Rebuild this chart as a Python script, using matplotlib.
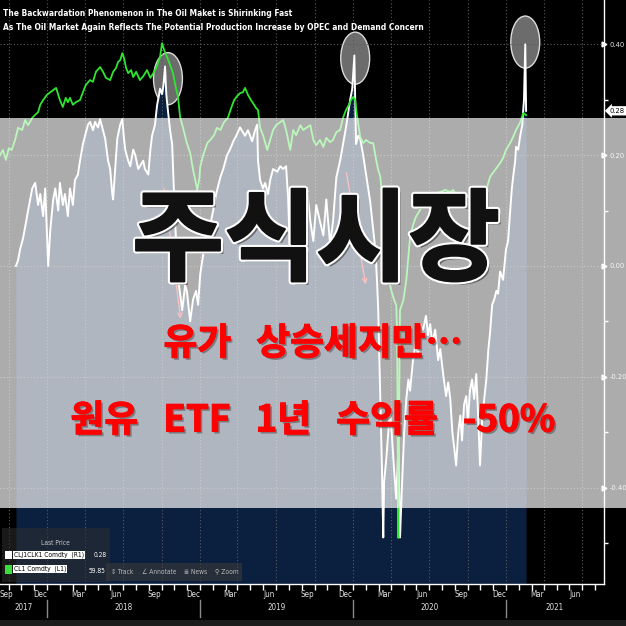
import pandas as pd
import matplotlib
matplotlib.use("Agg")
import matplotlib.pyplot as plt
import matplotlib.dates as mdates
import matplotlib.patheffects as pe
from matplotlib.patches import Ellipse, Rectangle
from matplotlib.transforms import blended_transform_factory, ScaledTranslation

# CLJ1CLK1 Comdty spread (right axis, white)
spread_dates = [
    "2017-09-18", "2017-09-23", "2017-09-28", "2017-10-05", "2017-10-10", "2017-10-17", "2017-10-27",
    "2017-11-03", "2017-11-10", "2017-11-15", "2017-11-22", "2017-11-27", "2017-12-04", "2017-12-09",
    "2017-12-16", "2017-12-21", "2017-12-28", "2018-01-01", "2018-01-08", "2018-01-13", "2018-01-20",
    "2018-01-25", "2018-02-01", "2018-02-06", "2018-02-13", "2018-02-18", "2018-02-25", "2018-03-02",
    "2018-03-09", "2018-03-14", "2018-03-21", "2018-03-26", "2018-04-02", "2018-04-07", "2018-04-14",
    "2018-04-19", "2018-04-26", "2018-05-01", "2018-05-06", "2018-05-08", "2018-05-13", "2018-05-18",
    "2018-05-25", "2018-05-30", "2018-06-03", "2018-06-06", "2018-06-13", "2018-06-18", "2018-06-25",
    "2018-06-30", "2018-07-07", "2018-07-11", "2018-07-19", "2018-07-23", "2018-07-31", "2018-08-05",
    "2018-08-09", "2018-08-16", "2018-08-21", "2018-08-26", "2018-08-28", "2018-09-02", "2018-09-05",
    "2018-09-09", "2018-09-12", "2018-09-16", "2018-09-21", "2018-09-26", "2018-09-30", "2018-10-03",
    "2018-10-08", "2018-10-10", "2018-10-15", "2018-10-20", "2018-10-27", "2018-10-31", "2018-11-08",
    "2018-11-15", "2018-11-22", "2018-11-27", "2018-12-02", "2018-12-09", "2018-12-16", "2018-12-26",
    "2019-01-02", "2019-01-09", "2019-01-19", "2019-01-26", "2019-02-04", "2019-02-11", "2019-02-19",
    "2019-02-26", "2019-03-07", "2019-03-19", "2019-03-26", "2019-04-05", "2019-04-12", "2019-04-17",
    "2019-04-19", "2019-04-24", "2019-05-01", "2019-05-06", "2019-05-13", "2019-05-18", "2019-05-25",
    "2019-06-04", "2019-06-11", "2019-06-18", "2019-06-25", "2019-06-30", "2019-07-05", "2019-07-10",
    "2019-07-17", "2019-07-24", "2019-07-29", "2019-08-05", "2019-08-10", "2019-08-14", "2019-08-22",
    "2019-08-29", "2019-09-05", "2019-09-14", "2019-09-22", "2019-09-29", "2019-10-08", "2019-10-15",
    "2019-10-23", "2019-11-01", "2019-11-08", "2019-11-15", "2019-11-20", "2019-11-25", "2019-11-30",
    "2019-12-05", "2019-12-07", "2019-12-09", "2019-12-14", "2019-12-19", "2019-12-26", "2020-01-02",
    "2020-01-12", "2020-01-19", "2020-01-24", "2020-01-28", "2020-01-31", "2020-02-05", "2020-02-09",
    "2020-02-12", "2020-02-14", "2020-02-19", "2020-02-24", "2020-02-28", "2020-03-04", "2020-03-09",
    "2020-03-14", "2020-03-19", "2020-03-23", "2020-03-28", "2020-04-02", "2020-04-07", "2020-04-12",
    "2020-04-16", "2020-04-23", "2020-04-30", "2020-05-05", "2020-05-10", "2020-05-17", "2020-05-24",
    "2020-05-29", "2020-06-03", "2020-06-08", "2020-06-15", "2020-06-22", "2020-06-27", "2020-07-04",
    "2020-07-11", "2020-07-16", "2020-07-21", "2020-07-26", "2020-07-30", "2020-08-04", "2020-08-09",
    "2020-08-14", "2020-08-18", "2020-08-23", "2020-08-28", "2020-09-01", "2020-09-06", "2020-09-11",
    "2020-09-16", "2020-09-21", "2020-09-25", "2020-09-30", "2020-10-05", "2020-10-10", "2020-10-15",
    "2020-10-20", "2020-10-24", "2020-10-29", "2020-11-03", "2020-11-08", "2020-11-12", "2020-11-17",
    "2020-11-24", "2020-12-01", "2020-12-06", "2020-12-11", "2020-12-15", "2020-12-18", "2020-12-23",
    "2020-12-25", "2020-12-30", "2021-01-04", "2021-01-09", "2021-01-11", "2021-01-13", "2021-01-16",
    "2021-01-18",
]
spread_vals = [
    0.00, 0.01, 0.03, 0.05, 0.07, 0.10, 0.14,
    0.15, 0.11, 0.13, 0.09, 0.14, 0.00, 0.065,
    0.12, 0.14, 0.10, 0.15, 0.11, 0.13, 0.09,
    0.14, 0.11, 0.155, 0.165, 0.19, 0.22, 0.235,
    0.255, 0.26, 0.245, 0.26, 0.25, 0.265, 0.245,
    0.23, 0.19, 0.175, 0.13, 0.12, 0.175, 0.23,
    0.255, 0.265, 0.23, 0.21, 0.19, 0.18, 0.21,
    0.20, 0.175, 0.18, 0.19, 0.175, 0.165, 0.21,
    0.235, 0.255, 0.29, 0.31, 0.32, 0.31, 0.325,
    0.36, 0.31, 0.28, 0.245, 0.22, 0.14, 0.08,
    0.01, -0.025, -0.05, -0.08, -0.035, -0.045, -0.10,
    -0.06, -0.045, -0.07, -0.015, 0.02, 0.045, 0.075,
    0.10, 0.13, 0.16, 0.175, 0.20, 0.21, 0.225,
    0.235, 0.25, 0.235, 0.245, 0.225, 0.245, 0.255,
    0.19, 0.155, 0.14, 0.15, 0.13, 0.155, 0.175,
    0.17, 0.18, 0.175, 0.18, 0.12, 0.005, 0.055,
    0.09, 0.12, 0.10, 0.14, 0.11, 0.14, 0.08,
    0.045, 0.11, 0.08, 0.055, 0.12, 0.04, 0.08,
    0.16, 0.19, 0.22, 0.25, 0.275, 0.30, 0.32,
    0.38, 0.30, 0.22, 0.235, 0.23, 0.20, 0.165,
    0.115, 0.065, 0.03, -0.025, -0.08, -0.24, -0.37,
    -0.49, -0.39, -0.35, -0.30, -0.26, -0.31, -0.37,
    -0.42, -0.33, -0.49, -0.39, -0.30, -0.24, -0.205,
    -0.225, -0.17, -0.135, -0.16, -0.105, -0.115, -0.09,
    -0.125, -0.105, -0.14, -0.115, -0.17, -0.15, -0.195,
    -0.235, -0.21, -0.24, -0.30, -0.325, -0.36, -0.30,
    -0.27, -0.315, -0.25, -0.235, -0.28, -0.225, -0.205,
    -0.24, -0.195, -0.26, -0.36, -0.28, -0.24, -0.205,
    -0.15, -0.12, -0.07, -0.06, -0.045, -0.05, -0.01,
    -0.025, 0.03, 0.045, 0.10, 0.14, 0.16, 0.19,
    0.215, 0.21, 0.235, 0.255, 0.28, 0.30, 0.40,
    0.28,
]

# CL1 Comdty price (left axis, green, scale hidden)
cl1_dates = [
    "2017-08-11", "2017-08-18", "2017-08-25", "2017-09-01", "2017-09-08", "2017-09-16", "2017-09-23",
    "2017-10-03", "2017-10-10", "2017-10-17", "2017-10-27", "2017-11-03", "2017-11-10", "2017-11-15",
    "2017-11-22", "2017-12-01", "2017-12-09", "2017-12-16", "2017-12-23", "2017-12-28", "2018-01-01",
    "2018-01-08", "2018-01-15", "2018-01-20", "2018-01-25", "2018-02-01", "2018-02-08", "2018-02-18",
    "2018-02-25", "2018-03-04", "2018-03-14", "2018-03-21", "2018-03-28", "2018-04-07", "2018-04-14",
    "2018-04-21", "2018-05-01", "2018-05-08", "2018-05-15", "2018-05-20", "2018-05-25", "2018-05-30",
    "2018-06-03", "2018-06-08", "2018-06-13", "2018-06-20", "2018-06-25", "2018-07-02", "2018-07-11",
    "2018-07-19", "2018-07-28", "2018-08-05", "2018-08-12", "2018-08-19", "2018-08-24", "2018-08-28",
    "2018-09-02", "2018-09-07", "2018-09-14", "2018-09-21", "2018-09-28", "2018-10-05", "2018-10-10",
    "2018-10-15", "2018-10-22", "2018-10-31", "2018-11-08", "2018-11-15", "2018-11-20", "2018-11-25",
    "2018-11-30", "2018-12-02", "2018-12-09", "2018-12-19", "2018-12-26", "2019-01-04", "2019-01-11",
    "2019-01-19", "2019-01-28", "2019-02-06", "2019-02-14", "2019-02-21", "2019-02-28", "2019-03-07",
    "2019-03-14", "2019-03-19", "2019-03-26", "2019-04-02", "2019-04-07", "2019-04-14", "2019-04-19",
    "2019-04-24", "2019-05-01", "2019-05-11", "2019-05-18", "2019-05-25", "2019-06-01", "2019-06-11",
    "2019-06-18", "2019-06-25", "2019-07-05", "2019-07-12", "2019-07-19", "2019-07-29", "2019-08-05",
    "2019-08-14", "2019-08-22", "2019-08-29", "2019-09-05", "2019-09-14", "2019-09-22", "2019-09-29",
    "2019-10-08", "2019-10-15", "2019-10-23", "2019-11-01", "2019-11-08", "2019-11-15", "2019-11-22",
    "2019-11-27", "2019-12-02", "2019-12-07", "2019-12-11", "2019-12-19", "2019-12-26", "2020-01-02",
    "2020-01-12", "2020-01-19", "2020-01-26", "2020-01-31", "2020-02-05", "2020-02-09", "2020-02-12",
    "2020-02-17", "2020-02-19", "2020-02-24", "2020-02-28", "2020-03-04", "2020-03-09", "2020-03-14",
    "2020-03-16", "2020-03-19", "2020-03-21", "2020-03-23", "2020-03-31", "2020-04-07", "2020-04-16",
    "2020-04-23", "2020-04-30", "2020-05-10", "2020-05-17", "2020-05-24", "2020-06-03", "2020-06-17",
    "2020-06-27", "2020-07-09", "2020-07-21", "2020-07-28", "2020-08-04", "2020-08-14", "2020-08-26",
    "2020-09-06", "2020-09-18", "2020-09-30", "2020-10-07", "2020-10-15", "2020-10-24", "2020-11-01",
    "2020-11-08", "2020-11-17", "2020-11-24", "2020-12-01", "2020-12-11", "2020-12-18", "2020-12-25",
    "2021-01-04", "2021-01-11", "2021-01-18",
]
cl1_vals = [
    50.6, 51.8, 49.5, 52.2, 51.8, 54.1, 56.9,
    56.4, 58.7, 57.5, 59.2, 59.9, 60.5, 62.2,
    63.3, 64.5, 65.1, 65.6, 66.1, 64.5, 63.3,
    61.7, 63.8, 62.8, 63.8, 62.2, 62.8, 63.3,
    65.1, 66.8, 67.9, 67.5, 69.8, 70.9, 69.8,
    68.4, 67.9, 69.8, 70.7, 72.1, 72.5, 74.1,
    73.0, 70.7, 69.5, 70.2, 68.6, 69.8, 67.9,
    68.8, 70.2, 68.4, 69.5, 70.7, 72.1, 73.2,
    76.4, 74.8, 73.2, 71.4, 69.5, 66.1, 64.0,
    59.4, 56.9, 53.4, 51.1, 47.2, 44.9, 42.6,
    45.3, 47.9, 50.6, 53.4, 54.1, 55.2, 56.9,
    56.4, 58.2, 59.2, 61.5, 63.3, 64.2, 64.9,
    65.1, 66.1, 64.5, 63.3, 62.6, 61.5, 61.0,
    56.9, 55.2, 51.8, 54.1, 56.4, 57.5, 58.2,
    58.7, 56.4, 51.8, 56.4, 55.2, 57.5, 56.4,
    57.0, 57.5, 54.1, 52.9, 54.1, 52.5, 54.6,
    53.6, 54.1, 55.9, 56.4, 59.2, 61.0, 62.2,
    63.3, 64.0, 63.3, 59.9, 54.8, 53.4, 54.1,
    53.4, 53.4, 49.5, 47.2, 45.6, 41.4, 38.0,
    28.7, 22.5, 21.8, 20.7, 18.8, 17.2, 16.1,
    10.3, -37.6, -5.8, 14.9, 17.2, 21.8, 31.7,
    34.5, 36.4, 38.0, 39.6, 40.7, 41.4, 41.9,
    42.1, 42.6, 42.1, 42.6, 41.4, 40.3, 41.4,
    41.0, 40.3, 39.6, 41.4, 42.6, 45.6, 46.7,
    47.6, 48.8, 49.9, 51.8, 53.4, 54.8, 56.4,
    58.2, 60.3, 59.85,
]

title_lines = [
    "The Backwardation Phenomenon in The Oil Maket is Shirinking Fast",
    "As The Oil Market Again Reflects The Potential Production Increase by OPEC and Demand Concern",
]
right_ticks = [0.40, 0.20, 0.00, -0.20, -0.40]
right_minor = [0.30, 0.10, -0.10, -0.30, -0.50]
last_spread = 0.28
last_cl1 = 59.85
legend_names = ["CLJ1CLK1 Comdty  (R1)", "CL1 Comdty  (L1)"]
tools = ["⇕ Track", "∠ Annotate", "≣ News", "⚲ Zoom"]
month_names = {3: "Mar", 6: "Jun", 9: "Sep", 12: "Dec"}
year_names = ["2017", "2018", "2019", "2020", "2021"]
circle_marks = [("2018-09-16", 0.338), ("2019-12-07", 0.375), ("2021-01-16", 0.404)]
arrow_marks = [(("2018-09-06", 0.145), ("2018-10-17", -0.10)),
               (("2019-11-15", 0.173), ("2020-01-02", -0.038))]
headline = "주식시장"
sub1 = "유가   상승세지만…"
sub2 = "원유   ETF   1년   수익률   -50%"

W = H = 626
def fx(px):
    return px / W
def fy(py):
    return 1 - py / H

narrow = ["Liberation Sans Narrow", "DejaVu Sans"]
kr = ["Noto Sans CJK KR", "DejaVu Sans"]
plt.rcParams["axes.unicode_minus"] = False

fig = plt.figure(figsize=(6.26, 6.26), dpi=100, facecolor="black")
renderer = fig.canvas.get_renderer()

def size_for(sample, width_px, em_px, mix=0.5, **kw):
    # blend of the size giving the target width and the size giving the target letter size
    t = fig.text(0, 0, sample, fontsize=10, family=narrow, fontstretch="condensed", **kw)
    w = t.get_window_extent(renderer).width
    t.remove()
    return (10 * width_px / w) ** (1 - mix) * (em_px * 0.72) ** mix

def ntext(x, y, s, fs, **kw):
    return fig.text(x, y, s, fontsize=fs, family=narrow, fontstretch="condensed", **kw)

ax = fig.add_axes([0, fy(584), fx(604), 584 / H])
ax2 = ax.twinx()
ax.set_facecolor("black")

sd = pd.to_datetime(spread_dates)
cd = pd.to_datetime(cl1_dates)
ylo, yhi = -0.574, 0.480
ax.set_xlim(pd.Timestamp("2017-08-11"), pd.Timestamp("2021-07-23"))
ax.set_ylim(ylo, yhi)
ax2.set_ylim(-48.2, 86.35)

# highlight circles (under the area fill)
for d, v in circle_marks:
    ax.add_patch(Ellipse((mdates.date2num(pd.Timestamp(d)), v), 69, 0.094,
                         fc=(0.52, 0.52, 0.52, 0.82), ec="#dcdcdc", lw=1, zorder=1))

ax.fill_between(sd, spread_vals, ylo, color="#0b1f3e", lw=0, zorder=2)
ax.plot(sd, spread_vals, color="white", lw=1.4, zorder=4)
ax2.plot(cd, cl1_vals, color="#2ee62e", lw=1.3)
ax2.set_axis_off()

for (d0, v0), (d1, v1) in arrow_marks:
    ax.annotate("", xy=(pd.Timestamp(d1), v1), xytext=(pd.Timestamp(d0), v0),
                arrowprops=dict(arrowstyle="->", color="#ff4040", lw=0.9, mutation_scale=8),
                zorder=5)

# grid
ax.set_axisbelow(False)
quarters = pd.date_range("2017-09-01", "2021-06-01", freq="3MS")
ax.set_xticks(quarters)
ax.xaxis.set_minor_locator(mdates.MonthLocator())
ax.set_xticklabels([])
ax.tick_params(axis="x", which="both", direction="out", length=4, width=1, color="white")
ax.grid(True, which="major", color="#5c5c5c", ls=(0, (1, 2)), lw=0.8)

tick_fs = size_for("-0.20", 15, 10, mix=0.35)
ax.yaxis.tick_right()
ax.set_yticks(right_ticks)
ax.set_yticks(right_minor, minor=True)
ax.set_yticklabels([f"{t:.2f}" for t in right_ticks])
ax.tick_params(axis="y", which="major", length=0, pad=4, labelsize=tick_fs, labelcolor="#e6e6e6")
ax.tick_params(axis="y", which="minor", length=3, width=1, color="white")
for lab in ax.get_yticklabels():
    lab.set_family(narrow)
    lab.set_fontstretch("condensed")

for s in ["left", "top"]:
    ax.spines[s].set_visible(False)
for s in ["right", "bottom"]:
    ax.spines[s].set_color("white")
    ax.spines[s].set_linewidth(1)

yt = blended_transform_factory(ax.transAxes, ax.transData)
ax.plot([1.0] * len(right_ticks), right_ticks, ls="none", marker=">", ms=3.5,
        color="white", transform=yt, clip_on=False)
ax.text(1.0 + 6 / 604, last_spread, f"{last_spread:.2f}", transform=yt, fontsize=tick_fs,
        family=narrow, fontstretch="condensed", color="black", ha="left", va="center",
        bbox=dict(boxstyle="larrow,pad=0.22", fc="white", ec="none"))

# month and year labels
xt = blended_transform_factory(ax.transData, ax.transAxes)
shift = ScaledTranslation(-7 / 100, 0, fig.dpi_scale_trans)
axis_fs = size_for("Mar", 11, 10)
for i, q in enumerate(quarters):
    if i == 0:
        ax.text(0, -0.0105, month_names[q.month], transform=ax.transAxes, ha="left", va="top",
                fontsize=axis_fs, family=narrow, fontstretch="condensed", color="#e0e0e0",
                clip_on=False)
        continue
    ax.text(q, -0.0105, month_names[q.month], transform=xt + shift, ha="center", va="top",
            fontsize=axis_fs, family=narrow, fontstretch="condensed", color="#e0e0e0",
            clip_on=False)
seps = pd.date_range("2017-12-01", "2020-12-01", freq="12MS")
for s in seps:
    ax.plot([s, s], [-0.027, -0.057], transform=xt, color="#8a8a8a", lw=1, clip_on=False)
lo, hi = ax.get_xlim()
edges = [lo] + [mdates.date2num(s) for s in seps] + [hi]
for i, name in enumerate(year_names):
    ax.text((edges[i] + edges[i + 1]) / 2, -0.041, name, transform=xt, ha="center", va="center",
            fontsize=axis_fs, family=narrow, fontstretch="condensed", color="#e0e0e0",
            clip_on=False)

# title
for line, yy, wpx in [(title_lines[0], 14, 254), (title_lines[1], 28, 367)]:
    fs = size_for(line, wpx, 11, mix=0.3, fontweight="bold")
    ntext(fx(3), fy(yy), line, fs, color="white", fontweight="bold", va="center", ha="left")

# legend panel
small_fs = size_for(legend_names[0], 70, 10, mix=0.0)
fig.add_artist(Rectangle((fx(2), fy(582)), fx(108), 54 / H, transform=fig.transFigure,
                         fc="#2e2e2e", alpha=0.55, lw=0, zorder=2))
ntext(fx(55), fy(543), "Last Price", small_fs, color="#c8c8c8", ha="center", va="center", zorder=3)
fig.add_artist(Rectangle((fx(5), fy(559)), 7 / W, 8 / H, transform=fig.transFigure,
                         fc="white", lw=0, zorder=3))
fig.add_artist(Rectangle((fx(5), fy(574)), 7 / W, 9 / H, transform=fig.transFigure,
                         fc="#3ddc3d", lw=0, zorder=3))
for name, yy in zip(legend_names, [555, 569]):
    ntext(fx(14), fy(yy), name, small_fs, color="black", ha="left", va="center", zorder=3,
          bbox=dict(boxstyle="square,pad=0.12", fc="white", ec="none"))
ntext(fx(107), fy(555), f"{last_spread:.2f}", small_fs, color="white", ha="right", va="center",
      zorder=3)
ntext(fx(105), fy(571), f"{last_cl1:.2f}", small_fs, color="white", ha="right", va="center",
      zorder=4)

# toolbar
fig.add_artist(Rectangle((fx(106), fy(581)), 136 / W, 18 / H, transform=fig.transFigure,
                         fc="#3a3a3a", alpha=0.6, lw=0, zorder=2))
for x0, label in zip([122, 159, 196, 227], tools):
    ntext(fx(x0), fy(572), label, small_fs, color="#b8b8b8", ha="center", va="center", zorder=3)
fig.add_artist(Rectangle((0, 0), 1, 6 / H, transform=fig.transFigure, fc="#1c1c1c", lw=0, zorder=2))

# translucent band
fig.add_artist(Rectangle((0, fy(508)), 1, (508 - 118) / H, transform=fig.transFigure,
                         fc="white", alpha=0.68, lw=0, zorder=5))

# Korean overlay text
fig.text(fx(316), fy(243), headline, color="#111111", fontsize=72, fontweight="black",
         family=kr, ha="center", va="center", zorder=10,
         path_effects=[pe.SimplePatchShadow(offset=(2.5, -2.5), shadow_rgbFace="#444444", alpha=0.7),
                       pe.Stroke(linewidth=4.5, foreground="white"),
                       pe.Stroke(linewidth=1.5, foreground="#111111"), pe.Normal()])
for txt, yy in [(sub1, 344), (sub2, 421)]:
    fig.text(fx(313), fy(yy), txt, color="#ff0000", fontsize=26.5, fontweight="bold",
             family=kr, ha="center", va="center", zorder=10,
             path_effects=[pe.SimplePatchShadow(offset=(1.5, -1.5), shadow_rgbFace="#555555", alpha=0.6),
                           pe.Stroke(linewidth=0.8, foreground="#ff0000"), pe.Normal()])

fig.savefig("out.png", dpi=100, facecolor="black")
